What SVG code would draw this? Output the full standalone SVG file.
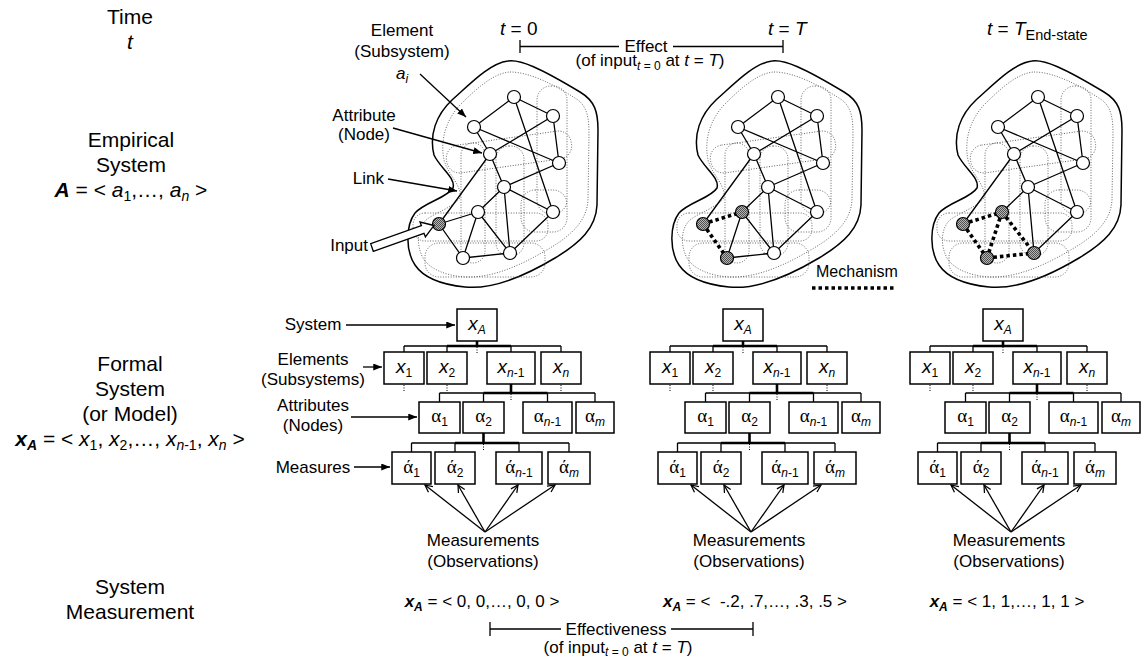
<svg xmlns="http://www.w3.org/2000/svg" width="1146" height="659" viewBox="0 0 1146 659">
<style>
text{font-family:"Liberation Sans",Arial,sans-serif;fill:#000}
.big{font-size:21px;text-anchor:middle}
.mid{font-size:17px}
.c{text-anchor:middle}
.e{text-anchor:end}
.hd{font-size:19px}
.it{font-style:italic}
.bi{font-weight:bold;font-style:italic}
.sb{font-size:12px}
.gk{font-family:"Liberation Serif","Times New Roman",serif}
.bx{font-size:19px;text-anchor:middle}
.ln{stroke:#000;stroke-width:1.3;fill:none}
.thk{stroke:#000;stroke-width:2.6;fill:none}
.dot{stroke:#000;stroke-width:1;stroke-dasharray:1 1.5;fill:none}
.box{fill:#fff;stroke:#000;stroke-width:1.5}
.edge{stroke:#000;stroke-width:1.3;fill:none}
.mech{stroke:#000;stroke-width:3.6;stroke-dasharray:3.5 3;fill:none}
.nd{fill:#fff;stroke:#000;stroke-width:1.2}
.on{fill:url(#grain)}
.rg{fill:none;stroke:#000;stroke-width:1.5}
.rgd{fill:none;stroke:#555;stroke-width:0.9;stroke-dasharray:1 1.6}
.arr{stroke:#000;stroke-width:1.3;fill:none;marker-end:url(#ah)}
.arv{stroke:#000;stroke-width:1.3;fill:none;marker-end:url(#av)}
</style>
<defs>
<marker id="ah" viewBox="0 0 10 8" refX="10" refY="4" markerWidth="9" markerHeight="7" markerUnits="userSpaceOnUse" orient="auto"><path d="M0,0 L10,4 L0,8 z" fill="#000"/></marker>
<marker id="av" viewBox="0 0 10 10" refX="9" refY="5" markerWidth="9" markerHeight="9" markerUnits="userSpaceOnUse" orient="auto"><path d="M1,1 L9,5 L1,9" fill="none" stroke="#000" stroke-width="1.4"/></marker>
<pattern id="grain" width="2" height="2" patternUnits="userSpaceOnUse"><rect width="2" height="2" fill="#b4b4b4"/><rect width="1" height="1" fill="#505050"/><rect x="1" y="1" width="1" height="1" fill="#505050"/></pattern>
<!-- system boundary with its dotted sub-system contours -->
<g id="region">
<path class="rg" d="M508,61 C520,59 540,68 580,92 C595,101 598,112 598,130 L597,205 C596,228 580,243 555,258 C530,273 495,290 465,287 C445,285 425,280 415,265 C405,250 406,225 415,213 C425,202 447,198 453,188 C456,178 440,168 434,155 C429,135 436,115 452,100 C470,84 490,63 508,61 Z"/>
<path class="rgd" d="M510,72 C530,72 555,85 578,100 C588,108 589,120 589,135 L588,200 C587,220 572,235 550,248 C525,263 495,278 466,277 C448,276 430,270 423,258 C416,245 417,228 426,220 C436,212 452,208 460,198 C462,185 448,175 444,160 C440,140 446,120 460,105 C475,90 493,73 510,72 Z"/>
<rect class="rgd" x="537" y="86" width="30" height="128" rx="14"/>
<rect class="rgd" x="461" y="143" width="24" height="120" rx="12"/>
<rect class="rgd" x="496" y="146" width="28" height="110" rx="13"/>
<rect class="rgd" x="521" y="190" width="46" height="42" rx="14"/>
<rect class="rgd" x="446" y="138" width="126" height="28" rx="13" transform="rotate(-8 509 152)"/>
<rect class="rgd" x="413" y="213" width="135" height="28" rx="12"/>
<rect class="rgd" x="425" y="243" width="120" height="34" rx="14"/>
</g>
<!-- arrows from the observation point up to the four measure boxes -->
<g id="obs-arrows">
<path class="arv" d="M485,532L425,485"/>
<path class="arv" d="M485,532L458,485"/>
<path class="arv" d="M485,532L518,485"/>
<path class="arv" d="M485,532L555,485"/>
</g>
</defs>
<rect width="1146" height="659" fill="#fff"/>

<!-- row captions -->
<g id="captions">
<text class="big" x="130" y="24">Time</text>
<text class="big it" x="130" y="49">t</text>
<text class="big" x="131" y="147">Empirical</text>
<text class="big" x="131" y="172">System</text>
<text class="big" x="131" y="197"><tspan class="bi">A</tspan> = &lt; <tspan class="it">a</tspan><tspan font-size="14" dy="4">1</tspan><tspan dy="-4">,…, </tspan><tspan class="it">a</tspan><tspan class="it" font-size="14" dy="4">n</tspan><tspan dy="-4"> &gt;</tspan></text>
<text class="big" x="130" y="371">Formal</text>
<text class="big" x="130" y="396">System</text>
<text class="big" x="130" y="421">(or Model)</text>
<text class="big" x="130" y="446"><tspan class="bi">x</tspan><tspan class="bi" font-size="14" dy="4">A</tspan><tspan dy="-4"> = &lt; </tspan><tspan class="it">x</tspan><tspan font-size="14" dy="4">1</tspan><tspan dy="-4">, </tspan><tspan class="it">x</tspan><tspan font-size="14" dy="4">2</tspan><tspan dy="-4">,…, </tspan><tspan class="it">x</tspan><tspan class="it" font-size="14" dy="4">n</tspan><tspan font-size="14">-1</tspan><tspan dy="-4">, </tspan><tspan class="it">x</tspan><tspan class="it" font-size="14" dy="4">n</tspan><tspan dy="-4"> &gt;</tspan></text>
<text class="big" x="130" y="594">System</text>
<text class="big" x="130" y="619">Measurement</text>
</g>

<!-- time headers and effect span -->
<g id="time-axis">
<text class="hd" x="500" y="35"><tspan class="it">t</tspan> = 0</text>
<text class="hd" x="768" y="35"><tspan class="it">t</tspan> = <tspan class="it">T</tspan></text>
<text class="hd" x="987" y="35"><tspan class="it">t</tspan> = <tspan class="it">T</tspan><tspan font-size="14.5" dy="5">End-state</tspan></text>
<path class="ln" d="M520,40V53 M520,46.5H619 M673,46.5H783 M783,40V53"/>
<text class="mid c" x="646" y="52">Effect</text>
<text class="mid c" x="650" y="66">(of input<tspan class="sb" dy="4"><tspan class="it">t</tspan> = 0</tspan><tspan dy="-4"> at </tspan><tspan class="it">t</tspan> = <tspan class="it">T</tspan>)</text>
</g>

<!-- empirical system at t = 0 -->
<g id="net-t0">
<use href="#region"/>
<g id="net-t0-links">
<path class="edge" d="M514,97L474,127 M514,97L553,116 M514,97L553,212 M474,127L559,163 M553,116L490,154 M553,116L559,163 M474,127L490,154 M490,154L439,224 M490,154L504,187 M559,163L504,187 M504,187L478,212 M504,187L510,253 M504,187L553,212 M553,212L510,253 M439,224L478,212 M439,224L463,258 M478,212L463,258 M478,212L510,253 M463,258L510,253"/>
</g>
<g id="n0-1"><circle class="nd" cx="514" cy="97" r="6.5"/></g>
<g id="n0-2"><circle class="nd" cx="553" cy="116" r="6.5"/></g>
<g id="n0-3"><circle class="nd" cx="474" cy="127" r="6.5"/></g>
<g id="n0-4"><circle class="nd" cx="490" cy="154" r="6.5"/></g>
<g id="n0-5"><circle class="nd" cx="559" cy="163" r="6.5"/></g>
<g id="n0-6"><circle class="nd" cx="504" cy="187" r="6.5"/></g>
<g id="n0-7"><circle class="nd" cx="478" cy="212" r="6.5"/></g>
<g id="n0-8"><circle class="nd" cx="553" cy="212" r="6.5"/></g>
<g id="n0-9"><circle class="nd on" cx="439" cy="224" r="6.5"/></g>
<g id="n0-10"><circle class="nd" cx="463" cy="258" r="6.5"/></g>
<g id="n0-11"><circle class="nd" cx="510" cy="253" r="6.5"/></g>
</g>

<!-- callouts on the first network -->
<g id="callouts">
<text class="mid c" x="402" y="36">Element</text>
<text class="mid c" x="402" y="57">(Subsystem)</text>
<text class="mid c" x="402" y="79"><tspan class="it">a</tspan><tspan class="it sb" dy="4">i</tspan></text>
<text class="mid c" x="364" y="121">Attribute</text>
<text class="mid c" x="364" y="140">(Node)</text>
<text class="mid e" x="384" y="184">Link</text>
<text class="mid e" x="368" y="251">Input</text>
<path class="arr" d="M420,74L466,117"/>
<path class="arr" d="M393,128L482,153"/>
<path class="arr" d="M388,179L457,191"/>
<polygon points="373.3,251.3 424,233.3 425.4,237 434,225.5 420,222 421.4,225.7 370.7,243.7" fill="#fff" stroke="#000" stroke-width="1.3"/>
</g>

<!-- empirical system at t = T -->
<g id="net-tT" transform="translate(264,0)">
<use href="#region"/>
<g id="net-tT-links">
<path class="edge" d="M514,97L474,127 M514,97L553,116 M514,97L553,212 M474,127L559,163 M553,116L490,154 M553,116L559,163 M474,127L490,154 M490,154L439,224 M490,154L504,187 M559,163L504,187 M504,187L478,212 M504,187L510,253 M504,187L553,212 M553,212L510,253 M478,212L463,258 M478,212L510,253 M463,258L510,253"/>
<path class="mech" d="M439,224L478,212 M439,224L463,258"/>
</g>
<g id="n1-1"><circle class="nd" cx="514" cy="97" r="6.5"/></g>
<g id="n1-2"><circle class="nd" cx="553" cy="116" r="6.5"/></g>
<g id="n1-3"><circle class="nd" cx="474" cy="127" r="6.5"/></g>
<g id="n1-4"><circle class="nd" cx="490" cy="154" r="6.5"/></g>
<g id="n1-5"><circle class="nd" cx="559" cy="163" r="6.5"/></g>
<g id="n1-6"><circle class="nd" cx="504" cy="187" r="6.5"/></g>
<g id="n1-7"><circle class="nd on" cx="478" cy="212" r="6.5"/></g>
<g id="n1-8"><circle class="nd" cx="553" cy="212" r="6.5"/></g>
<g id="n1-9"><circle class="nd on" cx="439" cy="224" r="6.5"/></g>
<g id="n1-10"><circle class="nd on" cx="463" cy="258" r="6.5"/></g>
<g id="n1-11"><circle class="nd" cx="510" cy="253" r="6.5"/></g>
</g>

<!-- empirical system at the end state -->
<g id="net-tE" transform="translate(524,0)">
<use href="#region"/>
<g id="net-tE-links">
<path class="edge" d="M514,97L474,127 M514,97L553,116 M514,97L553,212 M474,127L559,163 M553,116L490,154 M553,116L559,163 M474,127L490,154 M490,154L439,224 M490,154L504,187 M559,163L504,187 M504,187L478,212 M504,187L510,253 M504,187L553,212 M553,212L510,253"/>
<path class="mech" d="M439,224L478,212 M439,224L463,258 M478,212L510,253 M463,258L510,253 M478,212L463,258"/>
</g>
<g id="n2-1"><circle class="nd" cx="514" cy="97" r="6.5"/></g>
<g id="n2-2"><circle class="nd" cx="553" cy="116" r="6.5"/></g>
<g id="n2-3"><circle class="nd" cx="474" cy="127" r="6.5"/></g>
<g id="n2-4"><circle class="nd" cx="490" cy="154" r="6.5"/></g>
<g id="n2-5"><circle class="nd" cx="559" cy="163" r="6.5"/></g>
<g id="n2-6"><circle class="nd" cx="504" cy="187" r="6.5"/></g>
<g id="n2-7"><circle class="nd on" cx="478" cy="212" r="6.5"/></g>
<g id="n2-8"><circle class="nd" cx="553" cy="212" r="6.5"/></g>
<g id="n2-9"><circle class="nd on" cx="439" cy="224" r="6.5"/></g>
<g id="n2-10"><circle class="nd on" cx="463" cy="258" r="6.5"/></g>
<g id="n2-11"><circle class="nd on" cx="510" cy="253" r="6.5"/></g>
</g>

<!-- legend for the mechanism links -->
<g id="legend">
<text x="816" y="277" font-size="16">Mechanism</text>
<path class="mech" d="M812,288H896"/>
</g>

<!-- labels for the formal-system levels -->
<g id="level-labels">
<text class="mid c" x="313" y="330">System</text>
<text class="mid c" x="313" y="365">Elements</text>
<text class="mid c" x="313" y="385">(Subsystems)</text>
<text class="mid c" x="313" y="411">Attributes</text>
<text class="mid c" x="313" y="431">(Nodes)</text>
<text class="mid c" x="313" y="473">Measures</text>
<path class="arr" d="M346,325H455"/>
<path class="arr" d="M363,367H382"/>
<path class="arr" d="M351,417H417"/>
<path class="arr" d="M354,467H390"/>
</g>

<!-- formal system at t = 0 -->
<g id="tree-t0">
<g id="tree-t0-conn">
<path class="thk" d="M477,341V346 M447,346H511 M511,384V393 M483.5,393H547.5 M483.5,433V443 M455,443H519"/>
<path class="ln" d="M404,346H561 M404,346V352 M447,346V352 M511,346V352 M561,346V352 M439.5,393H595 M439.5,393V402 M483.5,393V402 M547.5,393V402 M595,393V402 M411.5,443H569 M411.5,443V452 M455,443V452 M519,443V452 M569,443V452"/>
<path class="dot" d="M477,347V354 M404,385V392 M447,385V392 M561,385V392 M511,394V401 M483.5,444V451"/>
<use href="#obs-arrows"/>
</g>
<g id="t0-xA"><rect class="box" x="457" y="309" width="40" height="32"/><text class="bx" x="477" y="330"><tspan class="it">x</tspan><tspan class="it sb" dy="4">A</tspan></text></g>
<g id="t0-x1"><rect class="box" x="384" y="352" width="40" height="32"/><text class="bx" x="404" y="373"><tspan class="it">x</tspan><tspan class="sb" dy="4">1</tspan></text></g>
<g id="t0-x2"><rect class="box" x="427" y="352" width="40" height="32"/><text class="bx" x="447" y="373"><tspan class="it">x</tspan><tspan class="sb" dy="4">2</tspan></text></g>
<g id="t0-xn1"><rect class="box" x="487" y="352" width="48" height="32"/><text class="bx" x="511" y="373"><tspan class="it">x</tspan><tspan class="it sb" dy="4">n</tspan><tspan class="sb">-1</tspan></text></g>
<g id="t0-xn"><rect class="box" x="541" y="352" width="40" height="32"/><text class="bx" x="561" y="373"><tspan class="it">x</tspan><tspan class="it sb" dy="4">n</tspan></text></g>
<g id="t0-a1"><rect class="box" x="419" y="402" width="41" height="31"/><text class="bx" x="439.5" y="422"><tspan class="gk">α</tspan><tspan class="sb" dy="4">1</tspan></text></g>
<g id="t0-a2"><rect class="box" x="463" y="402" width="41" height="31"/><text class="bx" x="483.5" y="422"><tspan class="gk">α</tspan><tspan class="sb" dy="4">2</tspan></text></g>
<g id="t0-an1"><rect class="box" x="523" y="402" width="49" height="31"/><text class="bx" x="547.5" y="422"><tspan class="gk">α</tspan><tspan class="it sb" dy="4">n</tspan><tspan class="sb">-1</tspan></text></g>
<g id="t0-am"><rect class="box" x="576" y="402" width="38" height="31"/><text class="bx" x="595" y="422"><tspan class="gk">α</tspan><tspan class="it sb" dy="4">m</tspan></text></g>
<g id="t0-m1"><rect class="box" x="392" y="452" width="39" height="32"/><text class="bx" x="411.5" y="473"><tspan class="gk">ά</tspan><tspan class="sb" dy="4">1</tspan></text></g>
<g id="t0-m2"><rect class="box" x="435" y="452" width="40" height="32"/><text class="bx" x="455" y="473"><tspan class="gk">ά</tspan><tspan class="sb" dy="4">2</tspan></text></g>
<g id="t0-mn1"><rect class="box" x="496" y="452" width="46" height="32"/><text class="bx" x="519" y="473"><tspan class="gk">ά</tspan><tspan class="it sb" dy="4">n</tspan><tspan class="sb">-1</tspan></text></g>
<g id="t0-mm"><rect class="box" x="548" y="452" width="42" height="32"/><text class="bx" x="569" y="473"><tspan class="gk">ά</tspan><tspan class="it sb" dy="4">m</tspan></text></g>
<text class="mid c" x="483" y="546">Measurements</text>
<text class="mid c" x="483" y="567">(Observations)</text>
<text class="mid c" x="482" y="607"><tspan class="bi">x</tspan><tspan class="bi sb" dy="4">A</tspan><tspan dy="-4"> = &lt; 0, 0,…, 0, 0 &gt;</tspan></text>
</g>

<!-- formal system at t = T -->
<g id="tree-tT" transform="translate(266,0)">
<g id="tree-tT-conn">
<path class="thk" d="M477,341V346 M447,346H511 M511,384V393 M483.5,393H547.5 M483.5,433V443 M455,443H519"/>
<path class="ln" d="M404,346H561 M404,346V352 M447,346V352 M511,346V352 M561,346V352 M439.5,393H595 M439.5,393V402 M483.5,393V402 M547.5,393V402 M595,393V402 M411.5,443H569 M411.5,443V452 M455,443V452 M519,443V452 M569,443V452"/>
<path class="dot" d="M477,347V354 M404,385V392 M447,385V392 M561,385V392 M511,394V401 M483.5,444V451"/>
<use href="#obs-arrows"/>
</g>
<g id="tT-xA"><rect class="box" x="457" y="309" width="40" height="32"/><text class="bx" x="477" y="330"><tspan class="it">x</tspan><tspan class="it sb" dy="4">A</tspan></text></g>
<g id="tT-x1"><rect class="box" x="384" y="352" width="40" height="32"/><text class="bx" x="404" y="373"><tspan class="it">x</tspan><tspan class="sb" dy="4">1</tspan></text></g>
<g id="tT-x2"><rect class="box" x="427" y="352" width="40" height="32"/><text class="bx" x="447" y="373"><tspan class="it">x</tspan><tspan class="sb" dy="4">2</tspan></text></g>
<g id="tT-xn1"><rect class="box" x="487" y="352" width="48" height="32"/><text class="bx" x="511" y="373"><tspan class="it">x</tspan><tspan class="it sb" dy="4">n</tspan><tspan class="sb">-1</tspan></text></g>
<g id="tT-xn"><rect class="box" x="541" y="352" width="40" height="32"/><text class="bx" x="561" y="373"><tspan class="it">x</tspan><tspan class="it sb" dy="4">n</tspan></text></g>
<g id="tT-a1"><rect class="box" x="419" y="402" width="41" height="31"/><text class="bx" x="439.5" y="422"><tspan class="gk">α</tspan><tspan class="sb" dy="4">1</tspan></text></g>
<g id="tT-a2"><rect class="box" x="463" y="402" width="41" height="31"/><text class="bx" x="483.5" y="422"><tspan class="gk">α</tspan><tspan class="sb" dy="4">2</tspan></text></g>
<g id="tT-an1"><rect class="box" x="523" y="402" width="49" height="31"/><text class="bx" x="547.5" y="422"><tspan class="gk">α</tspan><tspan class="it sb" dy="4">n</tspan><tspan class="sb">-1</tspan></text></g>
<g id="tT-am"><rect class="box" x="576" y="402" width="38" height="31"/><text class="bx" x="595" y="422"><tspan class="gk">α</tspan><tspan class="it sb" dy="4">m</tspan></text></g>
<g id="tT-m1"><rect class="box" x="392" y="452" width="39" height="32"/><text class="bx" x="411.5" y="473"><tspan class="gk">ά</tspan><tspan class="sb" dy="4">1</tspan></text></g>
<g id="tT-m2"><rect class="box" x="435" y="452" width="40" height="32"/><text class="bx" x="455" y="473"><tspan class="gk">ά</tspan><tspan class="sb" dy="4">2</tspan></text></g>
<g id="tT-mn1"><rect class="box" x="496" y="452" width="46" height="32"/><text class="bx" x="519" y="473"><tspan class="gk">ά</tspan><tspan class="it sb" dy="4">n</tspan><tspan class="sb">-1</tspan></text></g>
<g id="tT-mm"><rect class="box" x="548" y="452" width="42" height="32"/><text class="bx" x="569" y="473"><tspan class="gk">ά</tspan><tspan class="it sb" dy="4">m</tspan></text></g>
<text class="mid c" x="483" y="546">Measurements</text>
<text class="mid c" x="483" y="567">(Observations)</text>
<text class="mid c" x="489" y="607"><tspan class="bi">x</tspan><tspan class="bi sb" dy="4">A</tspan><tspan dy="-4"> = &lt;&#160; -.2, .7,…, .3, .5 &gt;</tspan></text>
</g>

<!-- formal system at the end state -->
<g id="tree-tE" transform="translate(526,0)">
<g id="tree-tE-conn">
<path class="thk" d="M477,341V346 M447,346H511 M511,384V393 M483.5,393H547.5 M483.5,433V443 M455,443H519"/>
<path class="ln" d="M404,346H561 M404,346V352 M447,346V352 M511,346V352 M561,346V352 M439.5,393H595 M439.5,393V402 M483.5,393V402 M547.5,393V402 M595,393V402 M411.5,443H569 M411.5,443V452 M455,443V452 M519,443V452 M569,443V452"/>
<path class="dot" d="M477,347V354 M404,385V392 M447,385V392 M561,385V392 M511,394V401 M483.5,444V451"/>
<use href="#obs-arrows"/>
</g>
<g id="tE-xA"><rect class="box" x="457" y="309" width="40" height="32"/><text class="bx" x="477" y="330"><tspan class="it">x</tspan><tspan class="it sb" dy="4">A</tspan></text></g>
<g id="tE-x1"><rect class="box" x="384" y="352" width="40" height="32"/><text class="bx" x="404" y="373"><tspan class="it">x</tspan><tspan class="sb" dy="4">1</tspan></text></g>
<g id="tE-x2"><rect class="box" x="427" y="352" width="40" height="32"/><text class="bx" x="447" y="373"><tspan class="it">x</tspan><tspan class="sb" dy="4">2</tspan></text></g>
<g id="tE-xn1"><rect class="box" x="487" y="352" width="48" height="32"/><text class="bx" x="511" y="373"><tspan class="it">x</tspan><tspan class="it sb" dy="4">n</tspan><tspan class="sb">-1</tspan></text></g>
<g id="tE-xn"><rect class="box" x="541" y="352" width="40" height="32"/><text class="bx" x="561" y="373"><tspan class="it">x</tspan><tspan class="it sb" dy="4">n</tspan></text></g>
<g id="tE-a1"><rect class="box" x="419" y="402" width="41" height="31"/><text class="bx" x="439.5" y="422"><tspan class="gk">α</tspan><tspan class="sb" dy="4">1</tspan></text></g>
<g id="tE-a2"><rect class="box" x="463" y="402" width="41" height="31"/><text class="bx" x="483.5" y="422"><tspan class="gk">α</tspan><tspan class="sb" dy="4">2</tspan></text></g>
<g id="tE-an1"><rect class="box" x="523" y="402" width="49" height="31"/><text class="bx" x="547.5" y="422"><tspan class="gk">α</tspan><tspan class="it sb" dy="4">n</tspan><tspan class="sb">-1</tspan></text></g>
<g id="tE-am"><rect class="box" x="576" y="402" width="38" height="31"/><text class="bx" x="595" y="422"><tspan class="gk">α</tspan><tspan class="it sb" dy="4">m</tspan></text></g>
<g id="tE-m1"><rect class="box" x="392" y="452" width="39" height="32"/><text class="bx" x="411.5" y="473"><tspan class="gk">ά</tspan><tspan class="sb" dy="4">1</tspan></text></g>
<g id="tE-m2"><rect class="box" x="435" y="452" width="40" height="32"/><text class="bx" x="455" y="473"><tspan class="gk">ά</tspan><tspan class="sb" dy="4">2</tspan></text></g>
<g id="tE-mn1"><rect class="box" x="496" y="452" width="46" height="32"/><text class="bx" x="519" y="473"><tspan class="gk">ά</tspan><tspan class="it sb" dy="4">n</tspan><tspan class="sb">-1</tspan></text></g>
<g id="tE-mm"><rect class="box" x="548" y="452" width="42" height="32"/><text class="bx" x="569" y="473"><tspan class="gk">ά</tspan><tspan class="it sb" dy="4">m</tspan></text></g>
<text class="mid c" x="483" y="546">Measurements</text>
<text class="mid c" x="483" y="567">(Observations)</text>
<text class="mid c" x="481" y="607"><tspan class="bi">x</tspan><tspan class="bi sb" dy="4">A</tspan><tspan dy="-4"> = &lt; 1, 1,…, 1, 1 &gt;</tspan></text>
</g>

<!-- effectiveness span -->
<g id="effectiveness">
<path class="ln" d="M490,622V636 M490,629H561 M671,629H753 M753,622V636"/>
<text class="mid c" x="616" y="635">Effectiveness</text>
<text class="mid c" x="618" y="653">(of input<tspan class="sb" dy="3"><tspan class="it">t</tspan> = 0</tspan><tspan dy="-3"> at </tspan><tspan class="it">t</tspan> = <tspan class="it">T</tspan>)</text>
</g>
</svg>
